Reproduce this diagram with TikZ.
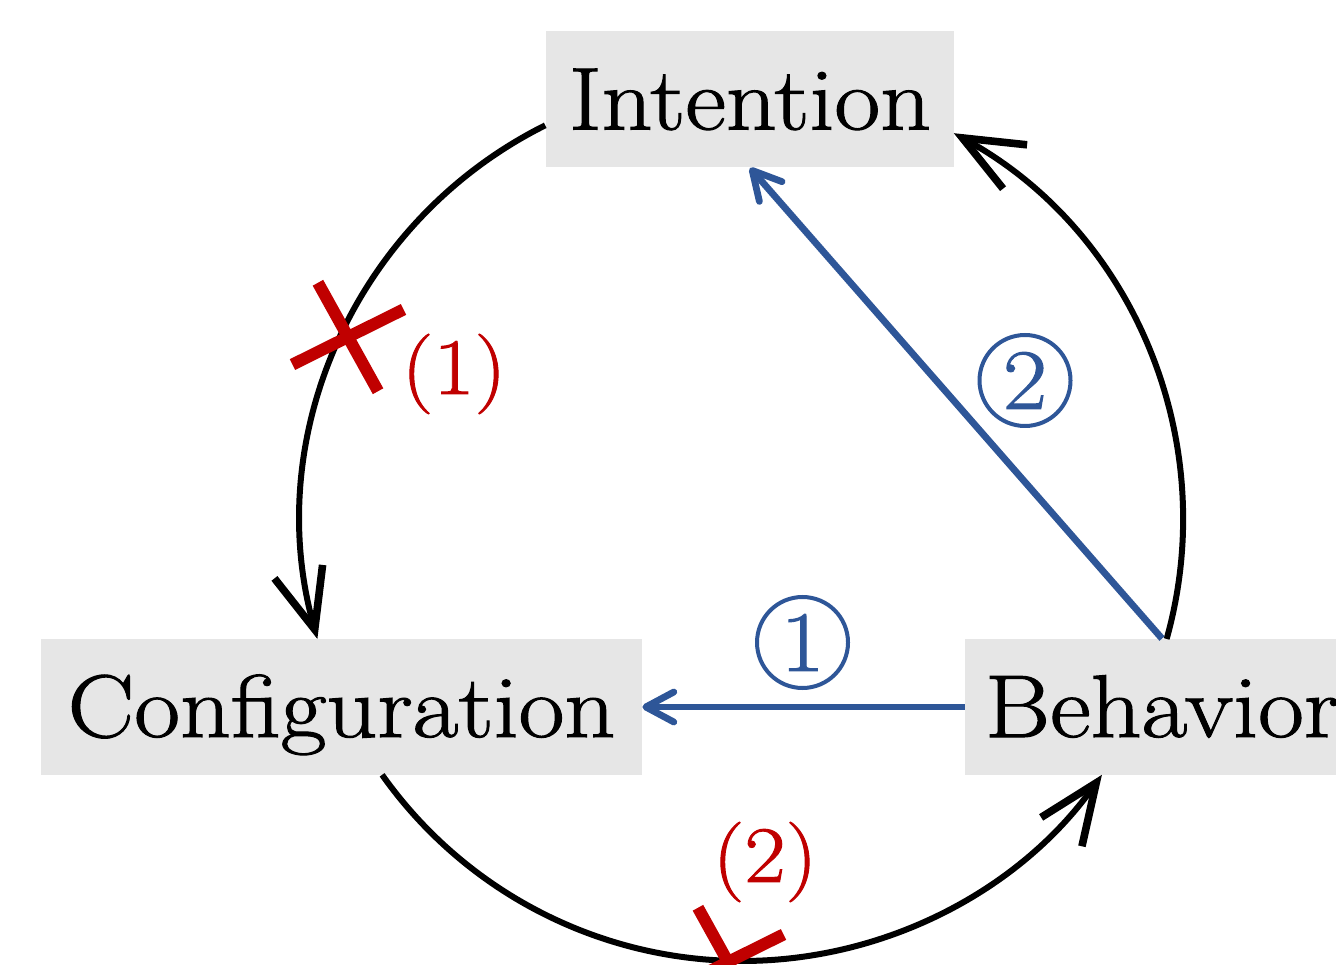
\documentclass[tikz,border=0pt]{standalone}
\usepackage{fontspec}
\setmainfont{Latin Modern Roman}[FakeStretch=1.12, FakeBold=1.2]
\usetikzlibrary{arrows.meta,calc}
\definecolor{boxgray}{RGB}{230,230,230}
\definecolor{myblue}{RGB}{46,86,152}
\definecolor{myred}{RGB}{192,0,0}
\begin{document}
\begin{tikzpicture}[x=0.5pt,y=0.5pt,
  box/.style={fill=boxgray, draw=none, minimum height=68pt, inner sep=0pt,
    text height=30pt, text depth=0pt, font=\fontsize{44.5}{48}\selectfont},
  blk/.style={line width=3pt, -{Straight Barb[length=30pt,width=25pt,line width=3.8pt]}},
  blu/.style={draw=myblue, line width=3.4pt, -{Straight Barb[length=14pt,width=15pt,round]}},
  circnum/.style={circle, draw=myblue, text=myblue, line width=2pt, minimum size=45.5pt,
    inner sep=0pt, font=\fontsize{43}{46}\selectfont},
  redlab/.style={text=myred, inner sep=0pt, font=\fontsize{40}{44}\selectfont},
  redx/.style={draw=myred, line width=6pt}
]
\useasboundingbox (0,0) rectangle (1336,964);
\clip (0,0) rectangle (1336,964);

% boxes
\node[box, minimum width=204pt] (intention) at (750,864.5) {Intention};
\node[box, minimum width=300.5pt] (configuration) at (341.5,257) {Configuration};
\node[box, minimum width=197pt] (behavior) at (1162,257) {Behavior};

% circle of arcs
\coordinate (c) at (742,444);
\coordinate (a1) at ($(c)+(116.5:441)$);
\coordinate (a2) at ($(c)+(215.3:441)$);
\coordinate (a3) at ($(c)+(-15.65:441)$);
\draw[blk] (a1) arc[start angle=116.5, end angle=195.65, radius=441];
\draw[blk] (a2) arc[start angle=215.3, end angle=324.7, radius=441];
\draw[blk] (a3) arc[start angle=-15.65, end angle=61.3, radius=441];

% blue connectors
\draw[blu] (behavior.west) -- (configuration.east);
\draw[blu] (behavior.north) -- (intention.south);
\node[circnum] (n1) at (802.5,321.5) {1};
\node[circnum] (n2) at (1025,583.5) {2};

% red crosses
\coordinate (x1) at (348,627);
\draw[redx] ($(x1)+(26.4:62)$) -- ($(x1)+(206.4:62)$);
\draw[redx] ($(x1)+(-61:62)$) -- ($(x1)+(119:62)$);
\coordinate (x2) at (728,2);
\draw[redx] ($(x2)+(26.4:62)$) -- ($(x2)+(206.4:62)$);
\draw[redx] ($(x2)+(-61:62)$) -- ($(x2)+(119:62)$);
\node[redlab] (l1) at (454,590) {(1)};
\node[redlab] (l2) at (765,102) {(2)};
\end{tikzpicture}
\end{document}
